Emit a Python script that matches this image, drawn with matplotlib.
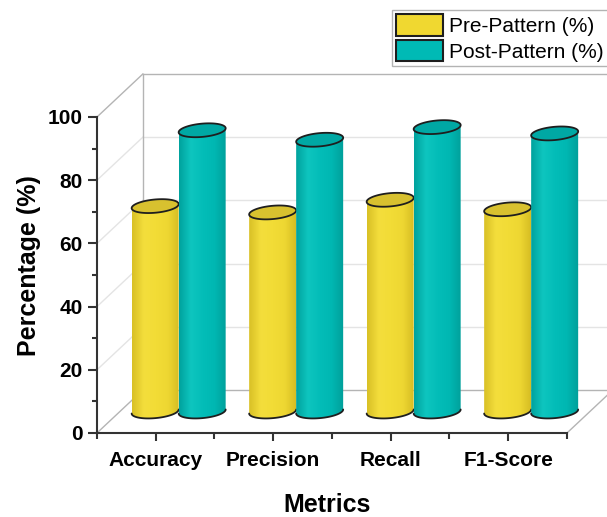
import numpy as np
import matplotlib
matplotlib.use("Agg")
import matplotlib.pyplot as plt
from matplotlib.patches import Polygon, Patch
from matplotlib.colors import LinearSegmentedColormap

plt.rcParams["font.family"] = ["Liberation Sans", "DejaVu Sans"]

categories = ["Accuracy", "Precision", "Recall", "F1-Score"]
pre_pattern = [65, 63, 67, 64]
post_pattern = [89, 86, 90, 88]
series_names = ["Pre-Pattern (%)", "Post-Pattern (%)"]

# oblique depth of the pseudo-3D box (x in category units, y in percent)
depth_x, depth_y = 0.39, 13.6
bar_w = 0.4
ell_h = 4.2
tilt = 3.2

yellow = dict(main="#F0D830", body=["#D8C026", "#F4DE3C", "#F2DC36", "#EED732", "#D4BB22"], top="#D8C12F")
teal = dict(main="#00BAB5", body=["#00A29D", "#0EC5BF", "#03BDB8", "#00B7B2", "#009F9A"], top="#00A8A4")


def cylinder(ax, xc, val, style, z):
    cx = xc + depth_x / 2
    base = depth_y / 2
    top = val + depth_y / 2
    a, b = bar_w / 2, ell_h / 2

    def ell(t, cy):
        return cx + a * np.cos(t), cy + b * np.sin(t) + tilt * a * np.cos(t)

    bx, by = ell(np.linspace(np.pi, 2 * np.pi, 80), base)
    tx, ty = ell(np.linspace(0, np.pi, 80), top)
    body = Polygon(np.column_stack([np.r_[bx, tx], np.r_[by, ty]]), closed=True,
                   facecolor="none", edgecolor="none", zorder=z, clip_on=False)
    ax.add_patch(body)

    cmap = LinearSegmentedColormap.from_list("shade", style["body"])
    grad = np.linspace(0, 1, 200).reshape(1, -1)
    im = ax.imshow(grad, cmap=cmap, aspect="auto", origin="lower", interpolation="bicubic",
                   extent=(cx - a, cx + a, base - b - 2, top + b + 2), zorder=z)
    im.set_clip_path(body)
    im.set_clip_box(ax.figure.bbox)

    ex, ey = ell(np.linspace(0, 2 * np.pi, 160), top)
    ax.add_patch(Polygon(np.column_stack([ex, ey]), closed=True, facecolor=style["top"],
                         edgecolor="#1e1e1e", lw=1.3, zorder=z + 1, clip_on=False))
    ax.plot(bx, by, color="#1e1e1e", lw=1.3, zorder=z + 1, solid_capstyle="round", clip_on=False)


fig = plt.figure(figsize=(6.07, 5.17), dpi=100)
ax = fig.add_axes([0.1598, 0.1625, 0.7743, 0.6112])

x = np.arange(1, len(categories) + 1)
x0, x1 = 0.5, len(categories) + 0.5

# back wall and side wall
frame = dict(color="#b4b4b4", lw=1.0, zorder=1, clip_on=False)
grid = dict(color="#e4e4e4", lw=1.0, zorder=0.5, clip_on=False)
for v in range(0, 101, 20):
    style = frame if v in (0, 100) else grid
    ax.plot([x0, x0 + depth_x], [v, v + depth_y], **style)
    ax.plot([x0 + depth_x, x1 + depth_x + 0.2], [v + depth_y, v + depth_y], **style)
ax.plot([x0 + depth_x, x0 + depth_x], [depth_y, 100 + depth_y], **frame)
ax.plot([x1, x1 + depth_x], [0, depth_y], **frame)

for i in range(len(categories)):
    cylinder(ax, x[i] - bar_w / 2, pre_pattern[i], yellow, 3)
    cylinder(ax, x[i] + bar_w / 2, post_pattern[i], teal, 5)

ax.set_xlim(x0, x1)
ax.set_ylim(0, 100)

for s in ("top", "right"):
    ax.spines[s].set_visible(False)
for s in ("left", "bottom"):
    ax.spines[s].set_color("#333333")
    ax.spines[s].set_linewidth(1.5)
    ax.spines[s].set_zorder(10)

ax.set_xticks(x)
ax.set_xticklabels(categories, fontsize=15, fontweight="bold")
ax.set_xticks(np.arange(x0, x1 + 0.01, 1), minor=True)
ax.set_yticks(range(0, 101, 20))
ax.set_yticklabels([str(v) for v in range(0, 101, 20)], fontsize=15, fontweight="bold")
ax.set_yticks(range(10, 100, 20), minor=True)
ax.tick_params(axis="x", which="major", length=6, width=1.5, color="#333333", pad=7)
ax.tick_params(axis="x", which="minor", length=4, width=1.5, color="#333333")
ax.tick_params(axis="y", which="major", length=6.5, width=1.5, color="#333333", pad=4)
ax.tick_params(axis="y", which="minor", length=3.5, width=1.5, color="#333333")

ax.set_ylabel("Percentage (%)", fontsize=18, fontweight="bold")
ax.yaxis.set_label_coords(-0.12, 0.53)
ax.set_xlabel("Metrics", fontsize=18, fontweight="bold")
ax.xaxis.set_label_coords(0.49, -0.19)

handles = [Patch(facecolor=yellow["main"], edgecolor="#1e1e1e", lw=1.5),
           Patch(facecolor=teal["main"], edgecolor="#1e1e1e", lw=1.5)]
leg = fig.legend(handles, series_names, loc="upper left", bbox_to_anchor=(392 / 607, 1 - 10 / 517),
                 fontsize=15, frameon=True, fancybox=False, shadow=False,
                 handlelength=2.25, handleheight=1.2, labelspacing=0.2,
                 handletextpad=0.3, borderpad=0.2, borderaxespad=0)
leg.get_frame().set_edgecolor("#a0a0a0")
leg.get_frame().set_linewidth(1.0)

fig.savefig("out.png", dpi=100)
